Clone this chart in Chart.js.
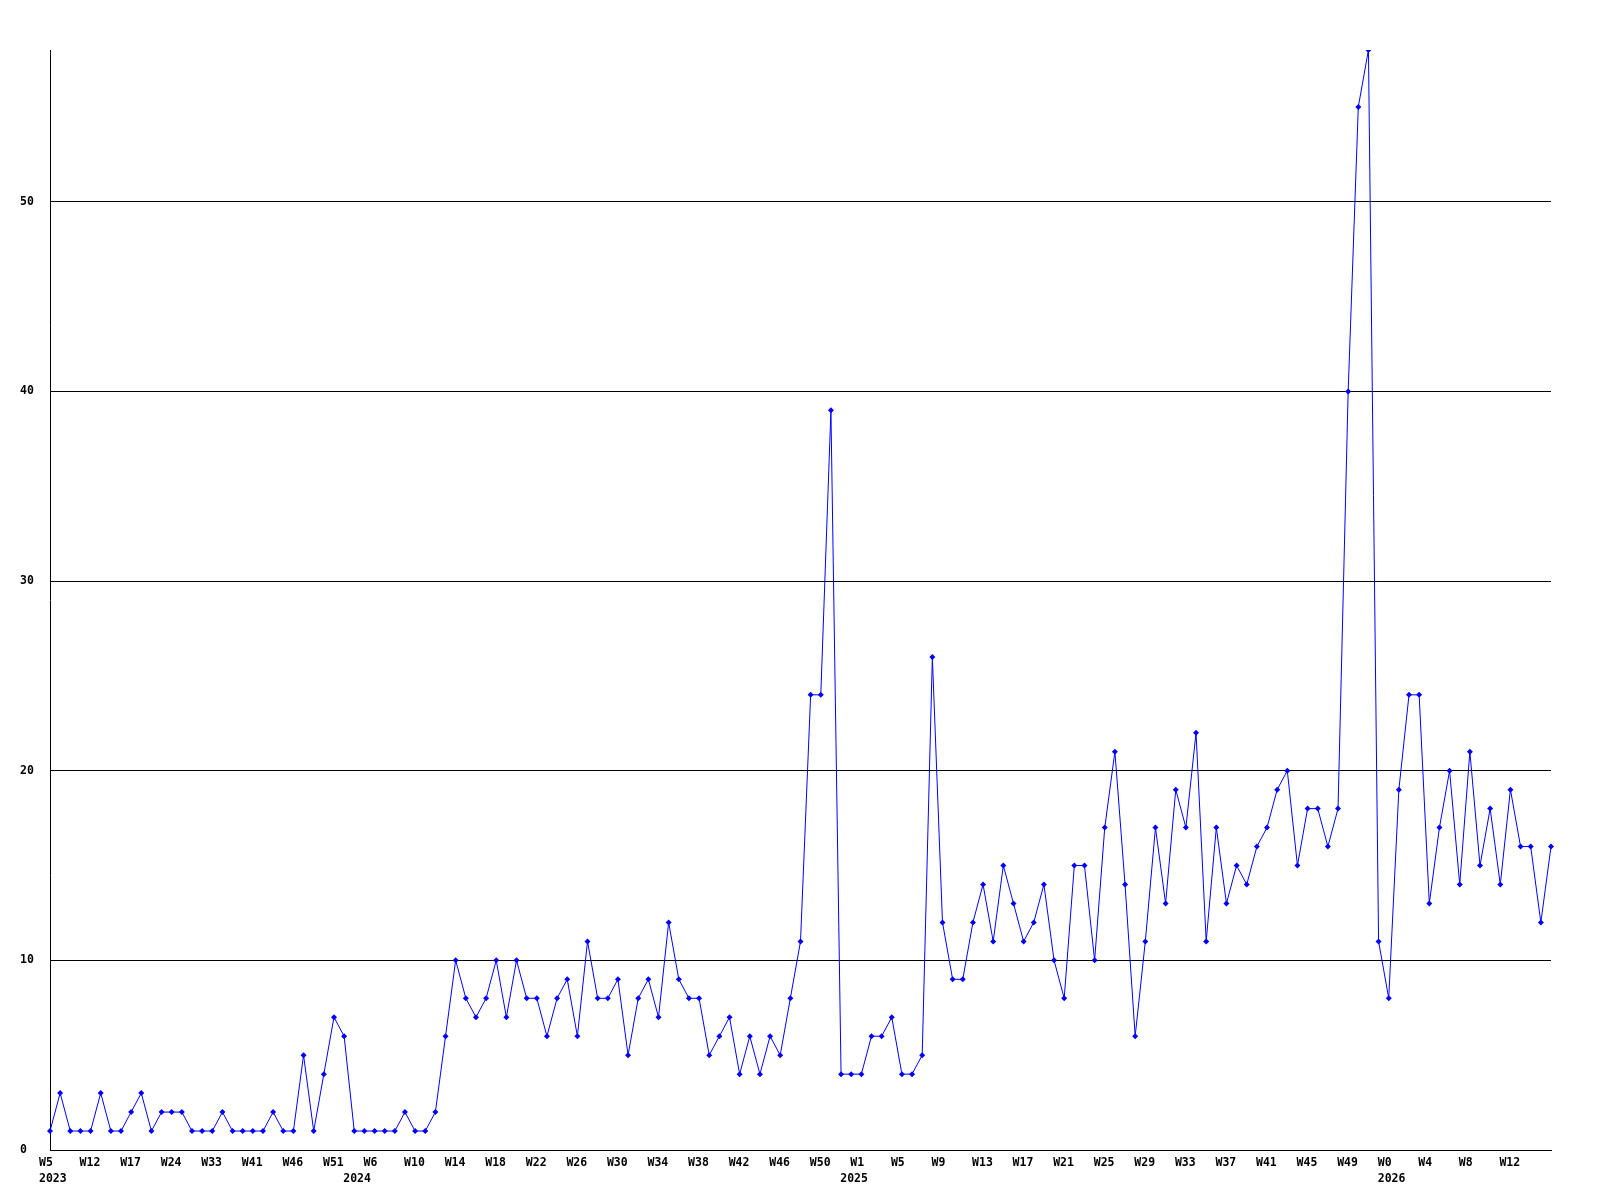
<!DOCTYPE html>
<html>
<head>
<meta charset="utf-8">
<title>Weekly counts</title>
<script src="https://cdn.jsdelivr.net/npm/chart.js@4.4.1/dist/chart.umd.min.js"></script>
<style>
    html, body { margin: 0; padding: 0; background: #fff; }
    #wrap { width: 1600px; height: 1200px; position: relative; }
</style>
</head>
<body>
<div id="wrap"><canvas id="weeklyChart"></canvas></div>
<script>
// ===== Week labels, one list per year =====
const weeks2023 = ['W5', 'W6', 'W8', 'W10', 'W12', 'W13', 'W15', 'W16', 'W17', 'W19',
    'W21', 'W22', 'W24', 'W26', 'W28', 'W31', 'W33', 'W35', 'W37', 'W39',
    'W41', 'W42', 'W43', 'W44', 'W46', 'W47', 'W48', 'W50', 'W51', 'W52'];
const weeks2024 = ['W4', 'W5', 'W6', 'W7', 'W8', 'W9', 'W10', 'W11', 'W12', 'W13',
    'W14', 'W15', 'W16', 'W17', 'W18', 'W19', 'W20', 'W21', 'W22', 'W23',
    'W24', 'W25', 'W26', 'W27', 'W28', 'W29', 'W30', 'W31', 'W32', 'W33',
    'W34', 'W35', 'W36', 'W37', 'W38', 'W39', 'W40', 'W41', 'W42', 'W43',
    'W44', 'W45', 'W46', 'W47', 'W48', 'W49', 'W50', 'W51', 'W52'];
const weeks2025 = ['W0', 'W1', 'W2', 'W3', 'W4', 'W5', 'W6', 'W7', 'W8', 'W9',
    'W10', 'W11', 'W12', 'W13', 'W14', 'W15', 'W16', 'W17', 'W18', 'W19',
    'W20', 'W21', 'W22', 'W23', 'W24', 'W25', 'W26', 'W27', 'W28', 'W29',
    'W30', 'W31', 'W32', 'W33', 'W34', 'W35', 'W36', 'W37', 'W38', 'W39',
    'W40', 'W41', 'W42', 'W43', 'W44', 'W45', 'W46', 'W47', 'W48', 'W49',
    'W50', 'W51', 'W52'];
const weeks2026 = ['W0', 'W1', 'W2', 'W3', 'W4', 'W5', 'W6', 'W7', 'W8', 'W9',
    'W10', 'W11', 'W12', 'W13', 'W14', 'W15', 'W16'];
const years = ['2023', '2024', '2025', '2026'];

// ===== Weekly values (same order as the week labels) =====
const values2023 = [1, 3, 1, 1, 1, 3, 1, 1, 2, 3, 1, 2, 2, 2, 1, 1, 1, 2, 1, 1,
    1, 1, 2, 1, 1, 5, 1, 4, 7, 6];
const values2024 = [1, 1, 1, 1, 1, 2, 1, 1, 2, 6, 10, 8, 7, 8, 10, 7, 10, 8, 8, 6,
    8, 9, 6, 11, 8, 8, 9, 5, 8, 9, 7, 12, 9, 8, 8, 5, 6, 7, 4, 6,
    4, 6, 5, 8, 11, 24, 24, 39, 4];
const values2025 = [4, 4, 6, 6, 7, 4, 4, 5, 26, 12, 9, 9, 12, 14, 11, 15, 13, 11, 12, 14,
    10, 8, 15, 15, 10, 17, 21, 14, 6, 11, 17, 13, 19, 17, 22, 11, 17, 13, 15, 14,
    16, 17, 19, 20, 15, 18, 18, 16, 18, 40, 55, 58, 11];
const values2026 = [8, 19, 24, 24, 13, 17, 20, 14, 21, 15, 18, 14, 19, 16, 16, 12, 16];

// ===== Axis =====
const yMin = 0;
const yMax = 58;
const yStep = 10;
const labelEvery = 4;

const colors = {
    line: '#0000ff',
    axis: '#000000',
    text: '#000000'
};

const tickFont = {
    family: '"DejaVu Sans Mono", "Liberation Mono", monospace',
    size: 11.5,
    weight: 'bold',
    lineHeight: 1.4
};

document.addEventListener('DOMContentLoaded', () => {
    initWeeklyChart();
});

function initWeeklyChart() {
    const ctx = document.getElementById('weeklyChart');
    if (!ctx) return;

    const groups = [weeks2023, weeks2024, weeks2025, weeks2026];
    const labels = [].concat(...groups);
    const data = [].concat(values2023, values2024, values2025, values2026);

    // index where each year starts -> year text
    const yearAt = {};
    let start = 0;
    groups.forEach((g, i) => {
        yearAt[start] = years[i];
        start += g.length;
    });

    new Chart(ctx, {
        type: 'line',
        data: {
            labels: labels,
            datasets: [{
                data: data,
                borderColor: colors.line,
                backgroundColor: colors.line,
                borderWidth: 1,
                tension: 0,
                fill: false,
                pointStyle: 'rectRot',
                pointRadius: 3,
                pointBorderWidth: 0,
                pointBackgroundColor: colors.line,
                pointHoverRadius: 3
            }]
        },
        options: {
            responsive: true,
            maintainAspectRatio: false,
            animation: false,
            devicePixelRatio: 1,
            layout: {
                padding: { left: 20, top: 50, right: 49, bottom: 0 }
            },
            plugins: {
                legend: { display: false },
                tooltip: { enabled: false }
            },
            scales: {
                x: {
                    type: 'category',
                    offset: false,
                    grid: { display: false, drawTicks: false },
                    border: { display: true, color: colors.axis, width: 1 },
                    ticks: {
                        autoSkip: false,
                        maxRotation: 0,
                        minRotation: 0,
                        align: 'start',
                        labelOffset: -11,
                        padding: 5,
                        color: colors.text,
                        font: tickFont,
                        callback: (value, index) => {
                            // the last week is not labelled in the original
                            const last = index === labels.length - 1;
                            const week = (index % labelEvery === 0 && !last) ? labels[index] : '';
                            const year = yearAt[index];
                            if (year) return [week, year];
                            return week;
                        }
                    },
                    afterFit: (scale) => { scale.height = 50; }
                },
                y: {
                    min: yMin,
                    max: yMax,
                    grid: { color: colors.axis, lineWidth: 1, drawTicks: false },
                    border: { display: true, color: colors.axis, width: 1 },
                    ticks: {
                        stepSize: yStep,
                        includeBounds: false,
                        crossAlign: 'far',
                        padding: 0,
                        color: colors.text,
                        font: tickFont
                    },
                    afterFit: (scale) => { scale.width = 30; }
                }
            }
        }
    });
}
</script>
</body>
</html>
